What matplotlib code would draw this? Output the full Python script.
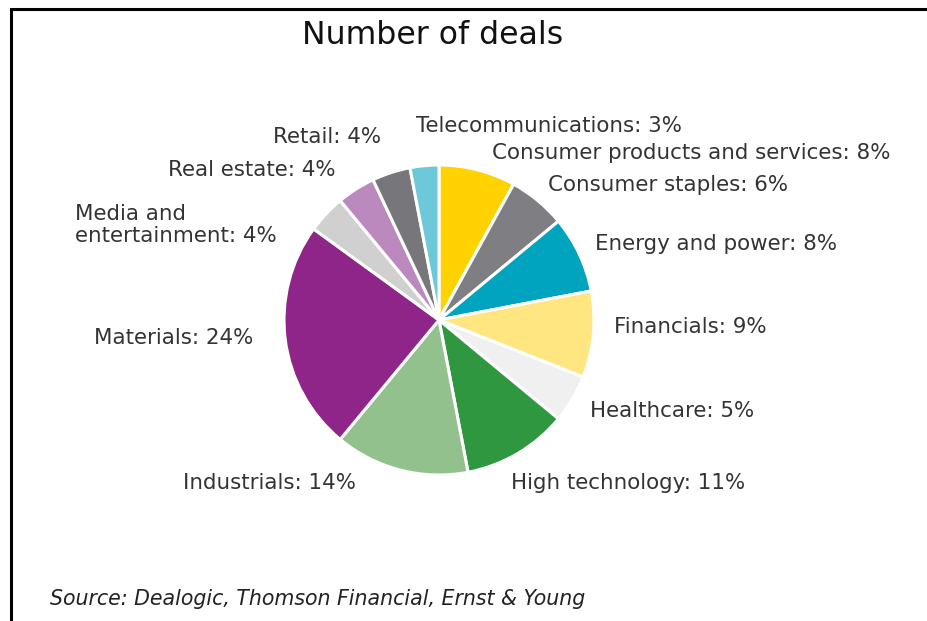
import matplotlib.pyplot as plt

# Share of deals by sector (%), clockwise from 12 o'clock
sectors = ['Consumer products and services', 'Consumer staples', 'Energy and power',
           'Financials', 'Healthcare', 'High technology', 'Industrials', 'Materials',
           'Media and\nentertainment', 'Real estate', 'Retail', 'Telecommunications']
shares = [8, 6, 8, 9, 5, 11, 14, 24, 4, 4, 4, 3]
colors = ['#FFD200', '#7F7E83', '#00A4BF', '#FFE681', '#F0F0F0', '#2E973F',
          '#93C18D', '#8F2589', '#D0D0D0', '#BC89BF', '#76767B', '#6DC8D9']

# label anchor in pixel coords (x, y from top) and horizontal alignment
label_pos = [(492, 153, 'left'), (548, 185, 'left'), (595, 244, 'left'),
             (614, 327, 'left'), (590, 411, 'left'), (511, 483, 'left'),
             (356, 483, 'right'), (253, 338, 'right'), (75, 225, 'left'),
             (336, 170, 'right'), (381, 137, 'right'), (416, 126, 'left')]

W, H = 927, 621
fig = plt.figure(figsize=(W / 100, H / 100), dpi=100, facecolor='white')
ax = fig.add_axes([0, 0, 1, 1])

ax.pie(shares, colors=colors, startangle=90, counterclock=False,
       center=(439, H - 320), radius=155,
       wedgeprops=dict(edgecolor='white', linewidth=2.2))

for name, val, (x, y, ha) in zip(sectors, shares, label_pos):
    ax.text(x, H - y, f'{name}: {val}%', ha=ha, va='center', fontsize=15.4,
            color='#333333', linespacing=1.1)

ax.text(433, H - 35, 'Number of deals', ha='center', va='center',
        fontsize=22.7, color='#111111')
ax.text(50, H - 599, 'Source: Dealogic, Thomson Financial, Ernst & Young',
        ha='left', va='center', fontsize=14.8, style='italic', color='#222222')

# frame lines on the left and top
ax.plot([11, 11, W + 5], [-5, H - 9, H - 9], color='black', lw=2.2,
        solid_joinstyle='miter', clip_on=False)

ax.set_xlim(0, W)
ax.set_ylim(0, H)
ax.set_aspect('auto')
ax.axis('off')

fig.savefig('out.png', dpi=100, facecolor='white')
